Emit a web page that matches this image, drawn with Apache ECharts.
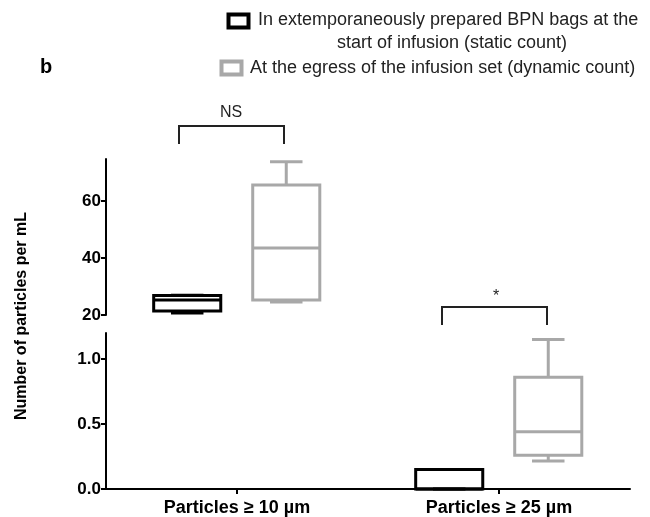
<!DOCTYPE html>
<html>
<head>
<meta charset="utf-8">
<script src="https://cdn.jsdelivr.net/npm/echarts@6/dist/echarts.min.js"></script>
<style>
  html, body { margin: 0; padding: 0; background: #fff; }
  #chart { width: 650px; height: 517px; }
</style>
</head>
<body>
<div id="chart"></div>
<script>
// categories and box values: [min, Q1, median, Q3, max]
const categories = ['Particles ≥ 10 µm', 'Particles ≥ 25 µm'];
const staticCount = [[20.7, 21.4, 25.3, 26.8, 26.9], [0, 0, 0, 0.15, 0.15]];
const dynamicCount = [[24.6, 25.3, 43.5, 65.6, 73.7], [0.215, 0.26, 0.44, 0.86, 1.15]];
const upperTicks = [20, 40, 60];
const lowerTicks = [0, 0.5, 1.0];

const FONT = 'Liberation Sans, Arial, sans-serif';
const BLACK = '#000';
const GRAY = '#a8a8a8';

const chart = echarts.init(document.getElementById('chart'));

function line(x1, y1, x2, y2, color) {
  return { type: 'line', shape: { x1, y1, x2, y2 }, style: { stroke: color, lineWidth: 3 } };
}

// draws a box + whiskers, shifted inside the category band
function boxRenderer(color, shift) {
  return function (params, api) {
    const cat = api.value(0);
    const band = api.size([1, 0])[0];
    const cx = api.coord([cat, api.value(3)])[0] + shift * band;
    const y = [1, 2, 3, 4, 5].map(i => api.coord([cat, api.value(i)])[1]);
    const hw = band * 0.128;
    const cw = band * 0.062;
    return {
      type: 'group',
      children: [
        { type: 'rect', shape: { x: cx - hw, y: y[3], width: 2 * hw, height: y[1] - y[3] },
          style: { stroke: color, fill: '#fff', lineWidth: 3 } },
        line(cx - hw, y[2], cx + hw, y[2], color),
        line(cx, y[3], cx, y[4], color),
        line(cx, y[1], cx, y[0], color),
        line(cx - cw, y[4], cx + cw, y[4], color),
        line(cx - cw, y[0], cx + cw, y[0], color)
      ]
    };
  };
}

function boxSeries(rows, catIdx, grid, color, shift) {
  return {
    type: 'custom',
    xAxisIndex: grid,
    yAxisIndex: grid,
    renderItem: boxRenderer(color, shift),
    encode: { x: 0, y: [1, 2, 3, 4, 5] },
    data: [[catIdx].concat(rows[catIdx])],
    silent: true
  };
}

const yLabel = { color: BLACK, fontSize: 17, fontWeight: 'bold', fontFamily: FONT, margin: 5 };
const yLine = { show: true, lineStyle: { color: BLACK, width: 2 } };
const yTick = { show: true, length: 5, lineStyle: { color: BLACK, width: 2 } };

const option = {
  animation: false,
  grid: [
    { left: 106, top: 159, width: 524, height: 156 },
    { left: 106, top: 333, width: 524, height: 156 }
  ],
  xAxis: [
    { type: 'category', gridIndex: 0, data: categories, show: false },
    {
      type: 'category', gridIndex: 1, data: categories,
      axisLine: { show: true, lineStyle: { color: BLACK, width: 2 } },
      axisTick: { show: true, alignWithLabel: true, length: 5, lineStyle: { color: BLACK, width: 2 } },
      axisLabel: { color: BLACK, fontSize: 18, fontWeight: 'bold', fontFamily: FONT, margin: 10 }
    }
  ],
  yAxis: [
    {
      type: 'value', gridIndex: 0, min: 20, max: 74.7,
      splitLine: { show: false }, axisLine: yLine,
      axisTick: Object.assign({ customValues: upperTicks }, yTick),
      axisLabel: Object.assign({ customValues: upperTicks }, yLabel)
    },
    {
      type: 'value', gridIndex: 1, min: 0, max: 1.2,
      splitLine: { show: false }, axisLine: yLine,
      axisTick: Object.assign({ customValues: lowerTicks }, yTick),
      axisLabel: Object.assign({ customValues: lowerTicks, formatter: v => v.toFixed(1) }, yLabel)
    }
  ],
  series: [
    boxSeries(staticCount, 0, 0, BLACK, -0.19),
    boxSeries(dynamicCount, 0, 0, GRAY, 0.188),
    boxSeries(staticCount, 1, 1, BLACK, -0.19),
    boxSeries(dynamicCount, 1, 1, GRAY, 0.188)
  ],
  graphic: [
    // panel letter
    { type: 'text', x: 40, y: 67, style: { text: 'b', fontSize: 20, fontWeight: 'bold', fontFamily: FONT, fill: BLACK, verticalAlign: 'middle' } },
    // legend
    { type: 'rect', shape: { x: 228.5, y: 14.5, width: 20, height: 13 }, style: { fill: '#fff', stroke: BLACK, lineWidth: 4 } },
    { type: 'text', x: 258, y: 20, style: { text: 'In extemporaneously prepared BPN bags at the', fontSize: 18, fontFamily: FONT, fill: '#222', verticalAlign: 'middle' } },
    { type: 'text', x: 452, y: 43, style: { text: 'start of infusion (static count)', fontSize: 18, fontFamily: FONT, fill: '#222', align: 'center', verticalAlign: 'middle' } },
    { type: 'rect', shape: { x: 221.5, y: 61.5, width: 20, height: 13 }, style: { fill: '#fff', stroke: GRAY, lineWidth: 4 } },
    { type: 'text', x: 250, y: 68, style: { text: 'At the egress of the infusion set (dynamic count)', fontSize: 18, fontFamily: FONT, fill: '#222', verticalAlign: 'middle' } },
    // y axis title
    { type: 'text', x: 22, y: 316, rotation: Math.PI / 2, style: { text: 'Number of particles per mL', fontSize: 16, fontWeight: 'bold', fontFamily: FONT, fill: BLACK, align: 'center', verticalAlign: 'middle' } },
    // significance brackets
    { type: 'polyline', shape: { points: [[179, 144], [179, 126], [284, 126], [284, 144]] }, style: { stroke: '#222', lineWidth: 2, fill: null } },
    { type: 'text', x: 231, y: 113, style: { text: 'NS', fontSize: 16, fontFamily: FONT, fill: '#222', align: 'center', verticalAlign: 'middle' } },
    { type: 'polyline', shape: { points: [[442, 325], [442, 307], [547, 307], [547, 325]] }, style: { stroke: '#222', lineWidth: 2, fill: null } },
    { type: 'text', x: 496, y: 297, style: { text: '*', fontSize: 16, fontFamily: FONT, fill: '#222', align: 'center', verticalAlign: 'middle' } }
  ]
};

chart.setOption(option);
</script>
</body>
</html>
